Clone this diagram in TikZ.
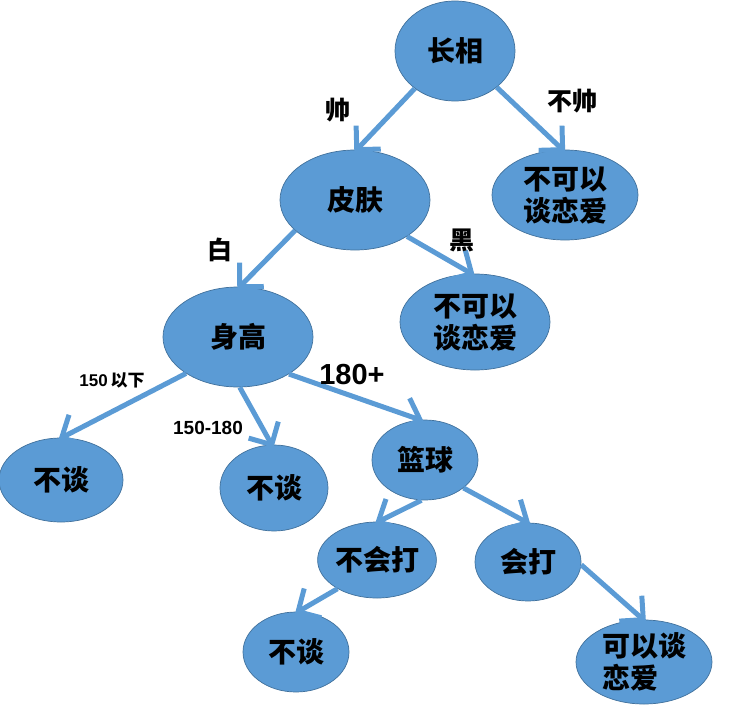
\documentclass[tikz,border=0pt]{standalone}
\usepackage{fontspec}
\setmainfont{Liberation Sans}
\newfontfamily\cjk{Noto Sans CJK SC}
\usetikzlibrary{shapes.geometric,calc}
\definecolor{nodeblue}{HTML}{5B9BD5}
\definecolor{edgeblue}{HTML}{41719C}
\tikzset{
  ell/.style={ellipse, fill=nodeblue, draw=edgeblue, line width=0.7pt, inner sep=0pt,
    font=\cjk\bfseries\fontsize{28}{32}\selectfont, align=center},
  connline/.style={draw=nodeblue, line width=5pt},
  connhead/.style={draw=nodeblue, line width=5pt, line join=miter},
  lab/.style={font=\cjk\bfseries\fontsize{25}{28}\selectfont, inner sep=0pt},
  numlab/.style={font=\bfseries\fontsize{19}{22}\selectfont, inner sep=0pt}
}
\newcommand\myconn[2]{%
  \draw[connline] (#1) -- (#2);
  \draw[connhead] ($(#2)!24pt!45:(#1)$) -- (#2) -- ($(#2)!24pt!-45:(#1)$);}
\begin{document}
\begin{tikzpicture}[x=1pt,y=-1pt]
\useasboundingbox (0,0) rectangle (749,709);
% nodes
\node[ell, minimum width=120pt, minimum height=100pt] (zx) at (455,51) {长相};
\node[ell, minimum width=150pt, minimum height=100pt] (pf) at (355,200) {皮肤};
\node[ell, minimum width=146pt, minimum height=90pt] (n1) at (565,195) {不可以\\谈恋爱};
\node[ell, minimum width=150pt, minimum height=100pt] (sg) at (238,337) {身高};
\node[ell, minimum width=150pt, minimum height=96pt] (n2) at (475,322) {不可以\\谈恋爱};
\node[ell, minimum width=124pt, minimum height=84pt] (bt1) at (61,480) {不谈};
\node[ell, minimum width=108pt, minimum height=86pt] (bt2) at (274,488) {不谈};
\node[ell, minimum width=106pt, minimum height=80pt] (lq) at (425,460) {篮球};
\node[ell, minimum width=108pt, minimum height=76pt] (bhd) at (377,560) {不会打};
\node[ell, minimum width=106pt, minimum height=78pt] (hd) at (528,562) {会打};
\node[ell, minimum width=106pt, minimum height=80pt] (bt3) at (296,652) {不谈};
\node[ell, minimum width=136pt, minimum height=84pt, align=left] (ky) at (644,662) {可以谈\\恋爱};
% connectors
\myconn{zx.223}{pf.88}
\myconn{zx.319}{n1.93}
\myconn{pf.325}{n2.94}
\myconn{pf.207}{sg.88}
\myconn{sg.215}{bt1.89}
\myconn{sg.272}{bt2.93}
\myconn{sg.324}{lq.97}
\myconn{lq.265}{bhd.88}
\myconn{lq.324}{hd.91}
\myconn{bhd.216}{bt3.87}
\myconn{hd.357}{ky.91}
% labels
\node[lab] (l1) at (338,110) {帅};
\node[lab] (l2) at (572,101) {不帅};
\node[lab] (l3) at (220,250) {白};
\node[lab] (l4) at (462,240) {黑};
\node[numlab, font=\bfseries\fontsize{17}{20}\selectfont] (l5) at (112,380) {150\,{\cjk\bfseries 以下}};
\node[numlab] (l6) at (208,428) {150-180};
\node[font=\bfseries\fontsize{29}{32}\selectfont, inner sep=0pt] (l7) at (352,375) {180+};
\end{tikzpicture}
\end{document}
